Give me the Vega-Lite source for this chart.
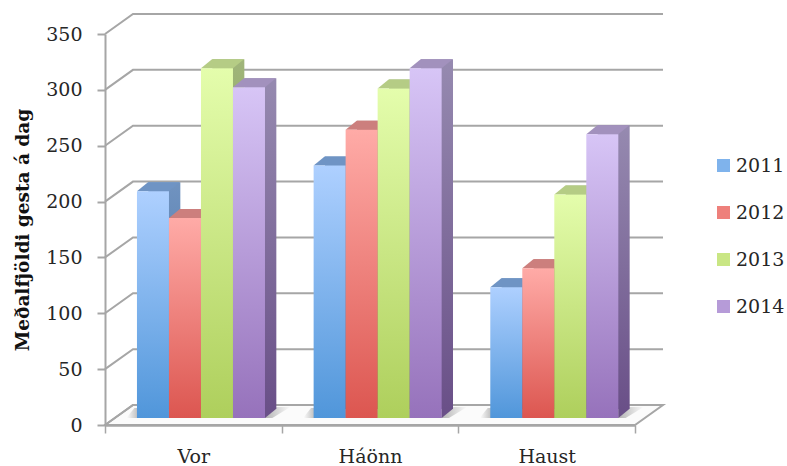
{
"$schema":"https://vega.github.io/schema/vega-lite/v6.json",
"width":530,"height":391,
"autosize":"none",
"padding":{"left":105,"top":34,"right":152,"bottom":41},
"background":"white",
"config":{"view":{"stroke":null}},
"datasets":{
"bars":[
{"season":"Vor","year":"2011","value":203},{"season":"Vor","year":"2012","value":179},{"season":"Vor","year":"2013","value":313},{"season":"Vor","year":"2014","value":296},
{"season":"Háönn","year":"2011","value":226},{"season":"Háönn","year":"2012","value":258},{"season":"Háönn","year":"2013","value":295},{"season":"Háönn","year":"2014","value":313},
{"season":"Haust","year":"2011","value":117},{"season":"Haust","year":"2012","value":134},{"season":"Haust","year":"2013","value":200},{"season":"Haust","year":"2014","value":254}
],
"ticks":[{"v":0},{"v":50},{"v":100},{"v":150},{"v":200},{"v":250},{"v":300},{"v":350}]
},
"encoding":{
"x":{"field":"season","type":"nominal","sort":["Vor","Háönn","Haust"],"scale":{"paddingInner":0,"paddingOuter":0},"axis":{"title":null,"labelAngle":0,"tickBand":"extent","tickSize":8,"tickColor":"#a6a6a6","tickWidth":1.5,"domainColor":"#a6a6a6","domainWidth":2.5,"labelFont":"DejaVu Serif","labelFontSize":19,"labelColor":"#262626","labelPadding":14}},
"xOffset":{"field":"year","type":"nominal","scale":{"paddingInner":0,"paddingOuter":0.76,"align":0.657}},
"y":{"field":"value","type":"quantitative","scale":{"domain":[0,350],"nice":false},
    "axis":{"title":"Meðalfjöldi gesta á dag","titleFont":"DejaVu Serif","titleFontWeight":"bold","titleFontSize":18.5,"titleColor":"#111111","titlePadding":13,"values":[0,50,100,150,200,250,300,350],"grid":false,"tickSize":8,"tickColor":"#a6a6a6","tickWidth":2,"domainColor":"#a6a6a6","domainWidth":2,"labelFont":"DejaVu Serif","labelFontSize":19,"labelColor":"#262626","labelPadding":15}}
},
"resolve":{"scale":{"color":"independent"}},
"layer":[
{"data":{"values":[{"v":0}]},
 "mark":{"type":"point","shape":"M0,0L28,-20L558,-20L530,0Z","size":4,"filled":true,"opacity":1,"fill":"#fbfbfb","stroke":"#a6a6a6","strokeWidth":2},
 "encoding":{"x":{"datum":"Vor","bandPosition":0},"xOffset":null,"y":{"field":"v","type":"quantitative"}}},
{"data":{"name":"ticks"},
 "mark":{"type":"point","shape":"M0,0L28,-20L558,-20","size":4,"filled":false,"opacity":1,"stroke":"#a6a6a6","strokeWidth":2},
 "encoding":{"x":{"datum":"Vor","bandPosition":0},"xOffset":null,"y":{"field":"v","type":"quantitative"}}},
{"data":{"name":"bars"},"transform":[{"filter":"datum.year=='2011'"}],
 "mark":{"type":"point","shape":"M-67,-7L-59,-17L97,-18L79,-7Z","size":4,"filled":true,"opacity":1,"strokeWidth":0,"fill":{"gradient":"linear","x1":0,"y1":0,"x2":1,"y2":0,"stops":[{"offset":0,"color":"#ffffff"},{"offset":0.08,"color":"#b5b5b5"},{"offset":0.85,"color":"#b5b5b5"},{"offset":1,"color":"#fbfbfb"}]}},
 "encoding":{"xOffset":null,"y":{"datum":0,"type":"quantitative"}}},
{"data":{"name":"bars"},"transform":[{"filter":"datum.year=='2011'"}],
 "mark":{"type":"bar","width":32,"xOffset":-29,"yOffset":-16,"y2Offset":-16,"fill":{"gradient":"linear","x1":0,"y1":0,"x2":0,"y2":1,"stops":[{"offset":0,"color":"#7093c0"},{"offset":1,"color":"#3f6a9e"}]}},
 "encoding":{"xOffset":null,"y2":{"datum":0}}},
{"data":{"name":"bars"},"transform":[{"filter":"datum.year=='2012'"}],
 "mark":{"type":"bar","width":32,"xOffset":3,"yOffset":-16,"y2Offset":-16,"fill":{"gradient":"linear","x1":0,"y1":0,"x2":0,"y2":1,"stops":[{"offset":0,"color":"#b87270"},{"offset":1,"color":"#8f3a38"}]}},
 "encoding":{"xOffset":null,"y2":{"datum":0}}},
{"data":{"name":"bars"},"transform":[{"filter":"datum.year=='2013'"}],
 "mark":{"type":"bar","width":32,"xOffset":35,"yOffset":-16,"y2Offset":-16,"fill":{"gradient":"linear","x1":0,"y1":0,"x2":0,"y2":1,"stops":[{"offset":0,"color":"#a0b57a"},{"offset":1,"color":"#76903f"}]}},
 "encoding":{"xOffset":null,"y2":{"datum":0}}},
{"data":{"name":"bars"},"transform":[{"filter":"datum.year=='2014'"}],
 "mark":{"type":"bar","width":32,"xOffset":67,"yOffset":-16,"y2Offset":-16,"fill":{"gradient":"linear","x1":0,"y1":0,"x2":0,"y2":1,"stops":[{"offset":0,"color":"#968ab0"},{"offset":1,"color":"#6a5088"}]}},
 "encoding":{"xOffset":null,"y2":{"datum":0}}},
{"data":{"name":"bars"},
 "mark":{"type":"point","shape":"M16,0L27,-9L16,-9Z","size":4,"filled":true,"opacity":1,"strokeWidth":0,"yOffset":-7},
 "encoding":{
  "y":{"datum":0,"type":"quantitative"},
  "color":{"field":"year","type":"nominal","legend":null,"scale":{"domain":["2011","2012","2013","2014"],"range":["#3f6a9e","#8f3a38","#76903f","#6a5088"]}}}},
{"data":{"name":"bars"},
 "mark":{"type":"point","shape":"M-16,0L-5,-9L27,-9L16,0Z","size":4,"filled":true,"opacity":1,"strokeWidth":0,"yOffset":-7},
 "encoding":{
  "color":{"field":"year","type":"nominal","legend":null,"scale":{"domain":["2011","2012","2013","2014"],"range":["#6f94c4","#cc7f7d","#b5cc85","#a291bd"]}}}},
{"data":{"name":"bars"},"transform":[{"filter":"datum.year=='2011'"}],
 "mark":{"type":"bar","yOffset":-7,"y2Offset":-7,"fill":{"gradient":"linear","x1":0,"y1":0,"x2":0,"y2":1,"stops":[{"offset":0,"color":"#aed0ff"},{"offset":1,"color":"#5096da"}]}},
 "encoding":{"y2":{"datum":0}}},
{"data":{"name":"bars"},"transform":[{"filter":"datum.year=='2012'"}],
 "mark":{"type":"bar","yOffset":-7,"y2Offset":-7,"fill":{"gradient":"linear","x1":0,"y1":0,"x2":0,"y2":1,"stops":[{"offset":0,"color":"#ffaba7"},{"offset":1,"color":"#dc5650"}]}},
 "encoding":{"y2":{"datum":0}}},
{"data":{"name":"bars"},"transform":[{"filter":"datum.year=='2013'"}],
 "mark":{"type":"bar","yOffset":-7,"y2Offset":-7,"fill":{"gradient":"linear","x1":0,"y1":0,"x2":0,"y2":1,"stops":[{"offset":0,"color":"#e4fdac"},{"offset":1,"color":"#aecf5c"}]}},
 "encoding":{"y2":{"datum":0}}},
{"data":{"name":"bars"},"transform":[{"filter":"datum.year=='2014'"}],
 "mark":{"type":"bar","yOffset":-7,"y2Offset":-7,"fill":{"gradient":"linear","x1":0,"y1":0,"x2":0,"y2":1,"stops":[{"offset":0,"color":"#d7c5f6"},{"offset":1,"color":"#9672bb"}]}},
 "encoding":{"y2":{"datum":0}}},
{"data":{"name":"bars"},
 "mark":{"type":"point","size":0,"filled":true,"opacity":0},
 "encoding":{
  "color":{"field":"year","type":"nominal","scale":{"domain":["2011","2012","2013","2014"],"range":["#7fb3ec","#ee807b","#c9e684","#b69bd8"]},
  "legend":{"title":null,"orient":"none","legendX":609,"legendY":122,"symbolType":"square","symbolSize":170,"symbolOpacity":1,"symbolStrokeWidth":0,"labelFont":"DejaVu Serif","labelFontSize":19,"labelColor":"#262626","rowPadding":27,"labelOffset":3}}}}
]
}
